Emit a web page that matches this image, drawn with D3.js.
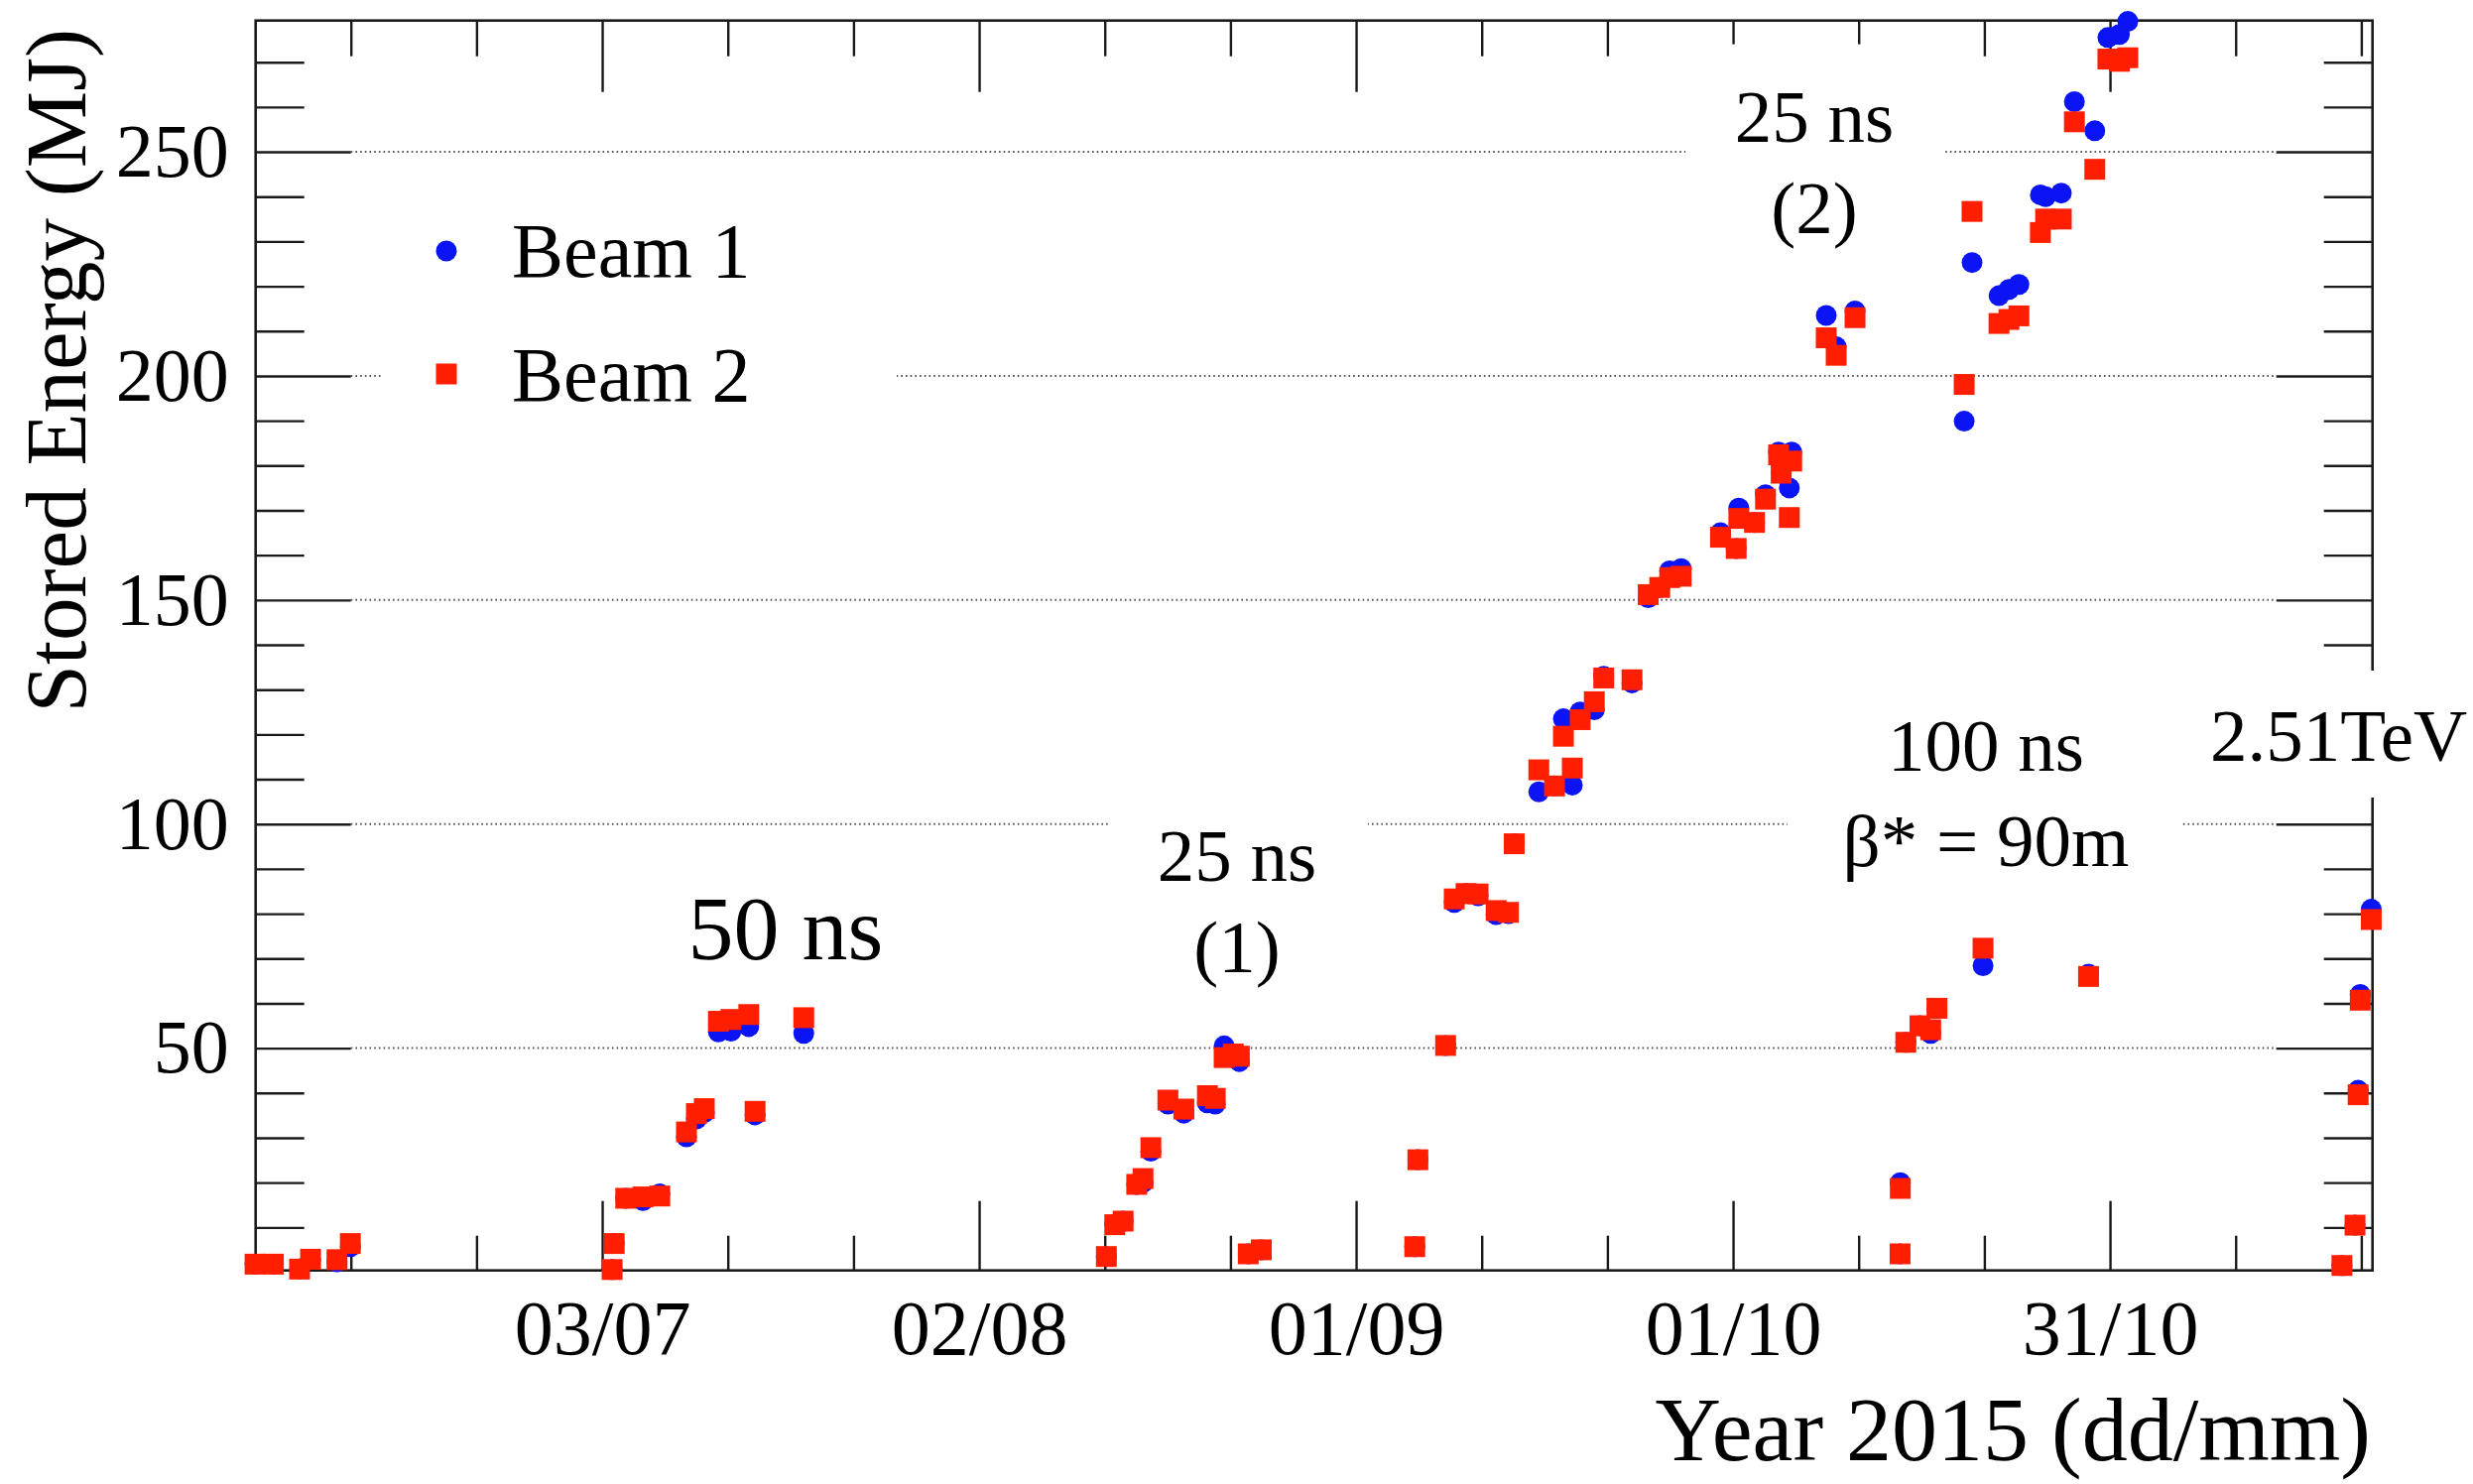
<!DOCTYPE html>
<html>
<head>
<meta charset="utf-8">
<script src="https://cdn.jsdelivr.net/npm/d3@7"></script>
<style>
  html, body { margin: 0; padding: 0; background: #fff; }
  svg { display: block; }
  text { font-family: "Liberation Serif", "Times New Roman", serif; fill: #000; }
</style>
</head>
<body>
<svg id="chart"></svg>
<script>
// Stored energy per fill, LHC 2015 (in MJ)
const fillTimes = [
  '2015-06-05 09:00', '2015-06-06 20:00', '2015-06-08 22:00', '2015-06-09 19:00',
  '2015-06-11 21:30', '2015-06-12 23:00', '2015-07-03 19:00', '2015-07-03 23:00',
  '2015-07-04 21:00', '2015-07-06 06:00', '2015-07-07 14:00', '2015-07-09 17:00',
  '2015-07-10 12:00', '2015-07-11 03:00', '2015-07-12 06:00', '2015-07-13 06:00',
  '2015-07-14 16:00', '2015-07-15 04:00', '2015-07-19 01:00', '2015-08-12 03:00',
  '2015-08-12 19:00', '2015-08-13 11:00', '2015-08-14 13:00', '2015-08-15 01:00',
  '2015-08-15 16:00', '2015-08-17 00:30', '2015-08-18 07:00', '2015-08-20 04:00',
  '2015-08-20 19:00', '2015-08-21 12:00', '2015-08-22 05:30', '2015-08-22 17:00',
  '2015-08-23 10:00', '2015-08-24 11:00', '2015-09-05 16:00', '2015-09-05 22:00',
  '2015-09-08 03:00', '2015-09-08 19:30', '2015-09-09 18:00', '2015-09-10 17:00',
  '2015-09-12 03:30', '2015-09-13 03:00', '2015-09-13 14:00', '2015-09-15 13:00',
  '2015-09-16 19:00', '2015-09-17 12:00', '2015-09-18 05:00', '2015-09-18 20:00',
  '2015-09-19 23:00', '2015-09-20 17:00', '2015-09-22 23:00', '2015-09-24 06:00',
  '2015-09-25 04:00', '2015-09-25 23:00', '2015-09-26 21:00', '2015-09-30 00:00',
  '2015-10-01 06:00', '2015-10-01 11:00', '2015-10-02 17:00', '2015-10-03 14:00',
  '2015-10-04 15:00', '2015-10-04 20:00', '2015-10-05 11:30', '2015-10-05 16:00',
  '2015-10-08 10:00', '2015-10-09 05:00', '2015-10-10 17:00', '2015-10-14 07:00',
  '2015-10-14 07:30', '2015-10-14 18:00', '2015-10-15 21:00', '2015-10-16 17:30',
  '2015-10-17 05:30', '2015-10-19 09:30', '2015-10-20 00:30', '2015-10-20 21:30',
  '2015-10-22 04:00', '2015-10-22 23:00', '2015-10-23 18:00', '2015-10-25 11:00',
  '2015-10-25 21:00', '2015-10-27 03:00', '2015-10-28 04:00', '2015-10-29 07:00',
  '2015-10-29 19:00', '2015-10-30 20:00', '2015-10-31 18:00', '2015-11-01 10:00',
  '2015-11-18 11:00', '2015-11-19 12:00', '2015-11-19 18:00', '2015-11-19 22:00',
  '2015-11-20 19:00'
];

const beam1 = [
  1.8, 1.8, 0.7, 2.9, 2.3, 5.7, 0.6, 6.4,
  16.5, 16.0, 17.5, 30.2, 34.2, 35.6, 53.6, 53.8,
  54.8, 35.1, 53.3, 3.5, 10.6, 11.4, 19.6, 20.0,
  27.0, 37.5, 35.5, 37.8, 37.5, 50.5, 48.7, 47.0,
  4.1, 5.0, 5.7, 25.1, 50.6, 82.5, 84.5, 84.0,
  79.8, 80.0, 95.6, 107.2, 108.5, 123.5, 108.7, 125.0,
  125.5, 133.0, 131.5, 150.5, 152.8, 156.5, 157.0, 165.0,
  161.5, 170.5, 167.3, 173.5, 183.0, 178.3, 175.0, 183.0,
  213.5, 206.5, 214.5, 4.1, 20.0, 51.3, 55.0, 53.3,
  58.9, 189.9, 225.3, 68.4, 217.9, 219.3, 220.4, 240.4,
  240.0, 240.8, 261.2, 66.5, 254.7, 275.5, 276.2, 279.1,
  1.5, 10.5, 40.6, 62.0, 81.0
];

const beam2 = [
  1.8, 1.8, 0.7, 2.9, 2.8, 6.4, 0.6, 6.4,
  16.5, 16.8, 17.0, 31.3, 35.4, 36.5, 56.0, 56.4,
  57.5, 35.9, 56.8, 3.5, 10.6, 11.4, 19.6, 20.9,
  27.8, 38.4, 36.4, 39.4, 38.8, 47.9, 48.7, 48.2,
  4.1, 5.0, 5.7, 25.1, 50.6, 83.3, 84.5, 84.4,
  80.7, 80.3, 95.6, 112.1, 108.5, 119.6, 112.5, 123.3,
  127.3, 132.6, 132.2, 151.2, 152.8, 155.0, 155.3, 164.0,
  161.5, 168.2, 167.3, 172.5, 182.4, 178.3, 168.4, 181.0,
  208.5, 204.6, 213.0, 4.1, 18.7, 51.3, 55.0, 54.1,
  58.9, 198.1, 236.7, 72.3, 211.7, 212.6, 213.4, 232.0,
  235.0, 235.0, 256.7, 66.0, 246.1, 270.7, 270.2, 271.0,
  1.5, 10.5, 39.6, 60.7, 78.7
];

const seriesNames = ['Beam 1', 'Beam 2'];
const xTickLabels = ['03/07', '02/08', '01/09', '01/10', '31/10'];
const yTickValues = [50, 100, 150, 200, 250];

const W = 2493, H = 1496;
const frame = { left: 257.7, right: 2391.7, top: 20.7, bottom: 1280.7 };
const colors = { b1: '#0a14f5', b2: '#ff1e00', axis: '#1a1a1a', grid: '#555' };
const serif = '"Liberation Serif", "Times New Roman", serif';

const parseTime = d3.utcParse('%Y-%m-%d %H:%M');
const parseTick = d3.utcParse('%d/%m/%Y');

const data = fillTimes.map((t, i) => ({ t: parseTime(t), b1: beam1[i], b2: beam2[i] }));

const x = d3.scaleUtc()
  .domain([parseTime('2015-06-05 10:05'), parseTime('2015-11-20 21:25')])
  .range([frame.left, frame.right]);
const y = d3.scaleLinear()
  .domain([0.4, 279.3])
  .range([frame.bottom, frame.top]);

const xMajor = xTickLabels.map(s => parseTick(s + '/2015'));
const xMinor = d3.range(-2, 15)
  .map(k => d3.utcDay.offset(xMajor[0], k * 10))
  .filter(d => d >= x.domain()[0] && d <= x.domain()[1])
  .filter(d => !xMajor.some(m => +m === +d));
const yMinor = d3.range(10, 280, 10).filter(v => v % 50 !== 0);

const svg = d3.select('#chart')
  .attr('width', W)
  .attr('height', H)
  .attr('viewBox', `0 0 ${W} ${H}`);

svg.append('rect').attr('width', W).attr('height', H).attr('fill', '#fff');

// dotted grid lines between the long ticks
svg.append('g')
  .selectAll('line')
  .data(yTickValues)
  .join('line')
  .attr('x1', frame.left + 96)
  .attr('x2', frame.right - 97)
  .attr('y1', d => y(d))
  .attr('y2', d => y(d))
  .attr('stroke', colors.grid)
  .attr('stroke-width', 2)
  .attr('stroke-dasharray', '1.6 3.1');

/**
 * Draws one tick set and strips the domain path.
 */
function tickAxis(axis, transform) {
  const g = svg.append('g').attr('transform', transform).call(axis);
  g.select('.domain').remove();
  g.selectAll('.tick line').attr('stroke', colors.axis).attr('stroke-width', 2.4);
  g.selectAll('text').style('font-family', serif);
  return g;
}

// bottom axis: labelled majors + minors
tickAxis(d3.axisBottom(x).tickValues(xMajor).tickSize(-70).tickSizeOuter(0)
  .tickPadding(29).tickFormat((d, i) => xTickLabels[i]), `translate(0,${frame.bottom})`)
  .selectAll('text').attr('font-size', 78).attr('fill', '#000');
tickAxis(d3.axisBottom(x).tickValues(xMinor).tickSize(-35).tickSizeOuter(0).tickFormat(''),
  `translate(0,${frame.bottom})`);

// top axis, ticks only
tickAxis(d3.axisTop(x).tickValues(xMajor).tickSize(-72).tickSizeOuter(0).tickFormat(''),
  `translate(0,${frame.top})`);
tickAxis(d3.axisTop(x).tickValues(xMinor).tickSize(-36).tickSizeOuter(0).tickFormat(''),
  `translate(0,${frame.top})`);

// left axis
tickAxis(d3.axisLeft(y).tickValues(yTickValues).tickSize(-96).tickSizeOuter(0).tickPadding(27),
  `translate(${frame.left},0)`)
  .selectAll('text').attr('font-size', 76).attr('fill', '#000');
tickAxis(d3.axisLeft(y).tickValues(yMinor).tickSize(-49).tickSizeOuter(0).tickFormat(''),
  `translate(${frame.left},0)`);

// right axis, ticks only
tickAxis(d3.axisRight(y).tickValues(yTickValues).tickSize(-97).tickSizeOuter(0).tickFormat(''),
  `translate(${frame.right},0)`);
tickAxis(d3.axisRight(y).tickValues(yMinor).tickSize(-49).tickSizeOuter(0).tickFormat(''),
  `translate(${frame.right},0)`);

svg.append('rect')
  .attr('x', frame.left)
  .attr('y', frame.top)
  .attr('width', frame.right - frame.left)
  .attr('height', frame.bottom - frame.top)
  .attr('fill', 'none')
  .attr('stroke', colors.axis)
  .attr('stroke-width', 2.6);

// white text panes (they hide grid and frame behind them)
const panes = [
  { x: 386, y: 185, w: 518, h: 260 },
  { x: 1699, y: 44.6, w: 261, h: 225 },
  { x: 1119, y: 805, w: 260, h: 230 },
  { x: 1802, y: 690, w: 398, h: 220 },
  { x: 2215, y: 676, w: 278, h: 128 }
];
svg.append('g')
  .selectAll('rect')
  .data(panes)
  .join('rect')
  .attr('x', d => d.x)
  .attr('y', d => d.y)
  .attr('width', d => d.w)
  .attr('height', d => d.h)
  .attr('fill', '#fff');

// annotations
const notes = [
  { text: '50 ns', x: 792, y: 967, size: 92, anchor: 'middle' },
  { text: '25 ns', x: 1247, y: 888, size: 75, anchor: 'middle' },
  { text: '(1)', x: 1247, y: 980, size: 75, anchor: 'middle' },
  { text: '25 ns', x: 1829, y: 143, size: 75, anchor: 'middle' },
  { text: '(2)', x: 1829, y: 235, size: 75, anchor: 'middle' },
  { text: '100 ns', x: 2002, y: 777, size: 75, anchor: 'middle' },
  { text: 'β* = 90m', x: 2002, y: 873, size: 75, anchor: 'middle' },
  { text: '2.51TeV', x: 2228, y: 767, size: 75, anchor: 'start' }
];
svg.append('g')
  .selectAll('text')
  .data(notes)
  .join('text')
  .attr('x', d => d.x)
  .attr('y', d => d.y)
  .attr('font-size', d => d.size)
  .attr('text-anchor', d => d.anchor)
  .text(d => d.text);

// axis titles
svg.append('text')
  .attr('transform', 'translate(86,29) rotate(-90)')
  .attr('text-anchor', 'end')
  .attr('font-size', 87)
  .text('Stored Energy (MJ)');

svg.append('text')
  .attr('x', 2390)
  .attr('y', 1472)
  .attr('text-anchor', 'end')
  .attr('font-size', 92)
  .text('Year 2015 (dd/mm)');

// legend
const legend = svg.append('g');
legend.append('circle').attr('cx', 450).attr('cy', 253).attr('r', 10.5).attr('fill', colors.b1);
legend.append('rect').attr('x', 439.5).attr('y', 366.5).attr('width', 21).attr('height', 21).attr('fill', colors.b2);
legend.selectAll('text')
  .data(seriesNames)
  .join('text')
  .attr('x', 516)
  .attr('y', (d, i) => i === 0 ? 279 : 404)
  .attr('font-size', 78)
  .text(d => d);

// markers: beam 1 circles underneath, beam 2 squares on top
svg.append('g')
  .selectAll('circle')
  .data(data)
  .join('circle')
  .attr('cx', d => x(d.t))
  .attr('cy', d => y(d.b1))
  .attr('r', 10.5)
  .attr('fill', colors.b1);

svg.append('g')
  .selectAll('rect')
  .data(data)
  .join('rect')
  .attr('x', d => x(d.t) - 10.5)
  .attr('y', d => y(d.b2) - 10.5)
  .attr('width', 21)
  .attr('height', 21)
  .attr('fill', colors.b2);
</script>
</body>
</html>
